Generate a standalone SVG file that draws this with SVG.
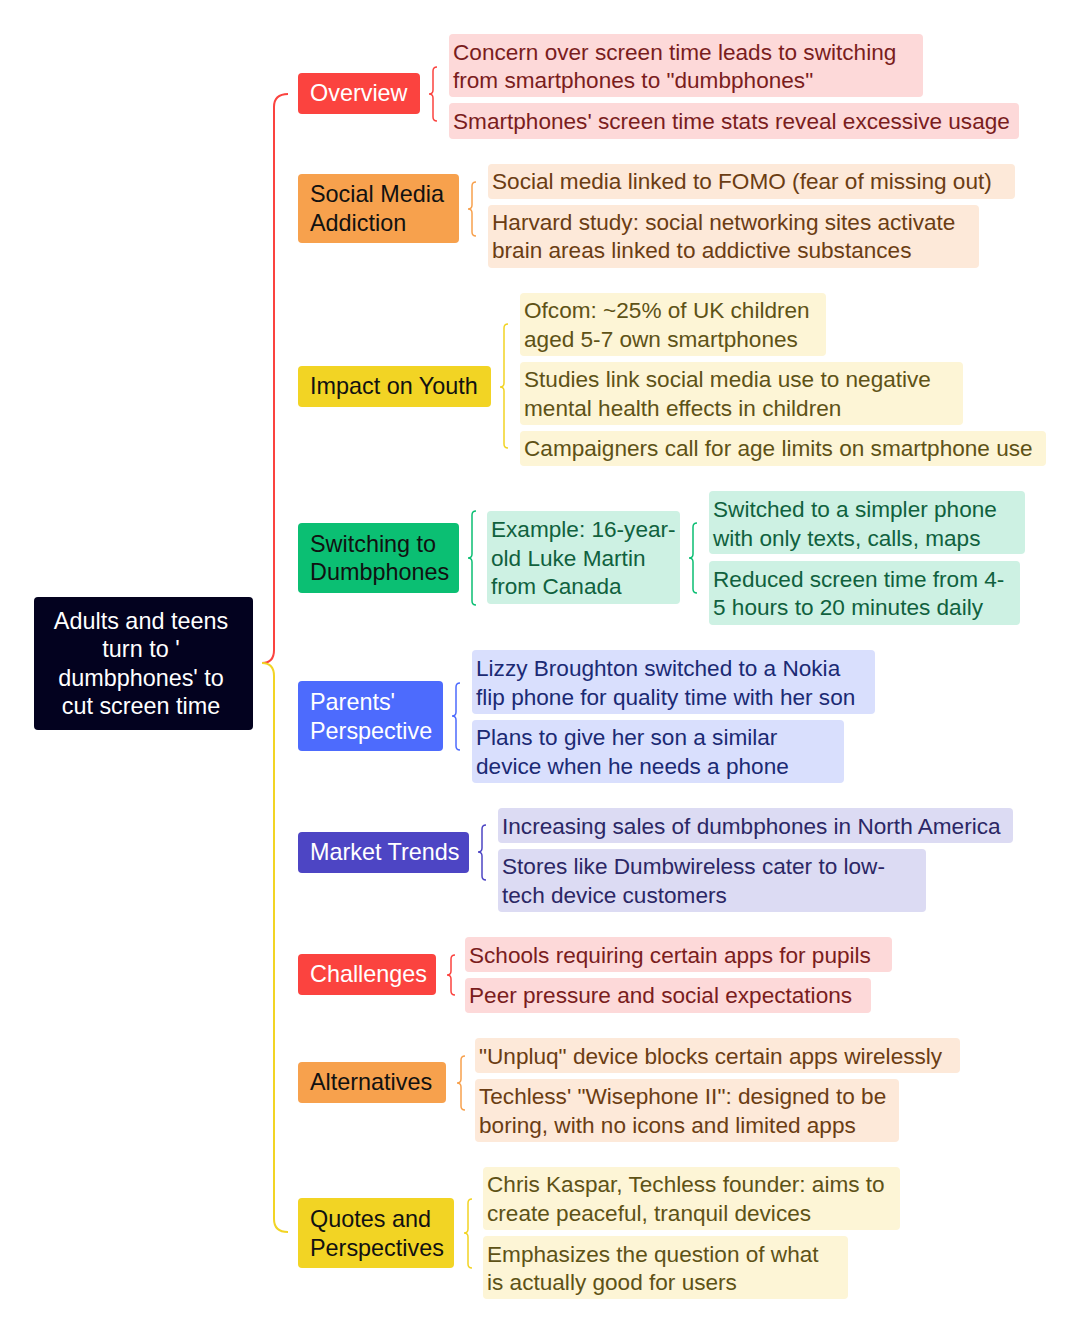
<svg xmlns="http://www.w3.org/2000/svg" width="1080" height="1334" viewBox="0 0 1080 1334">
<style>
text{font-family:"Liberation Sans",Arial,sans-serif;font-size:22.6px}
.n{font-size:23.4px}
.w{fill:#ffffff}.k{fill:#111111}
.br{fill:none;stroke-width:1.5}
.c{fill:none;stroke-width:2}
.red{fill:#fb433f}.org{fill:#f7a14d}.yel{fill:#f2d424}.grn{fill:#0bbf73}.blu{fill:#4d6bfd}.ind{fill:#4d45c4}
.pr{fill:#fdd9d9}.po{fill:#fde9d9}.py{fill:#fdf5d6}.pg{fill:#cdf1e3}.pb{fill:#d9dffd}.pi{fill:#dcdbf3}
.tr{fill:#7a1d1d}.to{fill:#6b3d13}.ty{fill:#5e5216}.tg{fill:#10613e}.tb{fill:#1b2a74}.ti{fill:#2b2765}
</style>
<rect width="1080" height="1334" fill="#ffffff"/>
<g id="connectors">
<path class="c" stroke="#fb433f" d="M262,663 Q274,663 274,650 L274,107 Q274,94 288,94"/>
<path class="c" stroke="#f2d424" d="M262,663 Q274,663 274,676 L274,1219 Q274,1232 288,1232"/>
<path class="br" stroke="#fb433f" d="M437,67 Q433,67 433,71 L433,90 Q433,94 429,94 Q433,94 433,98 L433,117 Q433,121 437,121"/>
<path class="br" stroke="#f7a14d" d="M476,182 Q472,182 472,186 L472,205 Q472,209 468,209 Q472,209 472,213 L472,232 Q472,236 476,236"/>
<path class="br" stroke="#f2d424" d="M508,324 Q504,324 504,328 L504,383 Q504,387 500,387 Q504,387 504,391 L504,444 Q504,448 508,448"/>
<path class="br" stroke="#0bbf73" d="M476,511 Q472,511 472,515 L472,554 Q472,558 468,558 Q472,558 472,562 L472,601 Q472,605 476,605"/>
<path class="br" stroke="#0bbf73" d="M697,523 Q693,523 693,527 L693,554 Q693,558 689,558 Q693,558 693,562 L693,589 Q693,593 697,593"/>
<path class="br" stroke="#4d6bfd" d="M460,683 Q456,683 456,687 L456,712 Q456,716 452,716 Q456,716 456,720 L456,746 Q456,750 460,750"/>
<path class="br" stroke="#4d45c4" d="M486,825 Q482,825 482,829 L482,848 Q482,852 478,852 Q482,852 482,856 L482,876 Q482,880 486,880"/>
<path class="br" stroke="#fb433f" d="M455,955 Q451,955 451,959 L451,971 Q451,975 447,975 Q451,975 451,979 L451,991 Q451,995 455,995"/>
<path class="br" stroke="#f7a14d" d="M465,1056 Q461,1056 461,1060 L461,1079 Q461,1083 457,1083 Q461,1083 461,1087 L461,1106 Q461,1110 465,1110"/>
<path class="br" stroke="#f2d424" d="M472,1199 Q468,1199 468,1203 L468,1229 Q468,1233 464,1233 Q468,1233 468,1237 L468,1264 Q468,1268 472,1268"/>
</g>
<g id="root">
<rect x="34" y="597" width="219" height="133" rx="4" fill="#03021f"/>
<text class="w n" text-anchor="middle"><tspan x="141" y="629">Adults and teens</tspan><tspan x="141" y="657">turn to '</tspan><tspan x="141" y="686">dumbphones' to</tspan><tspan x="141" y="714">cut screen time</tspan></text>
</g>
<g id="overview">
<rect class="red" x="298" y="73" width="122" height="41" rx="4"/>
<text class="w n" x="310" y="101">Overview</text>
</g>
<g id="overview-1"><rect class="pr" x="449" y="34" width="474" height="63" rx="4"/><text class="tr"><tspan x="453" y="60">Concern over screen time leads to switching</tspan><tspan x="453" y="88">from smartphones to "dumbphones"</tspan></text></g>
<g id="overview-2"><rect class="pr" x="449" y="103" width="570" height="36" rx="4"/><text class="tr" x="453" y="129">Smartphones' screen time stats reveal excessive usage</text></g>
<g id="social">
<rect class="org" x="298" y="174" width="161" height="69" rx="4"/>
<text class="k n"><tspan x="310" y="202">Social Media</tspan><tspan x="310" y="231">Addiction</tspan></text>
</g>
<g id="social-1"><rect class="po" x="488" y="164" width="527" height="35" rx="4"/><text class="to" x="492" y="189">Social media linked to FOMO (fear of missing out)</text></g>
<g id="social-2"><rect class="po" x="488" y="205" width="491" height="63" rx="4"/><text class="to"><tspan x="492" y="230">Harvard study: social networking sites activate</tspan><tspan x="492" y="258">brain areas linked to addictive substances</tspan></text></g>
<g id="youth">
<rect class="yel" x="298" y="366" width="193" height="41" rx="4"/>
<text class="k n" x="310" y="394">Impact on Youth</text>
</g>
<g id="youth-1"><rect class="py" x="520" y="293" width="306" height="63" rx="4"/><text class="ty"><tspan x="524" y="318">Ofcom: ~25% of UK children</tspan><tspan x="524" y="347">aged 5-7 own smartphones</tspan></text></g>
<g id="youth-2"><rect class="py" x="520" y="362" width="443" height="63" rx="4"/><text class="ty"><tspan x="524" y="387">Studies link social media use to negative</tspan><tspan x="524" y="416">mental health effects in children</tspan></text></g>
<g id="youth-3"><rect class="py" x="520" y="431" width="526" height="35" rx="4"/><text class="ty" x="524" y="456">Campaigners call for age limits on smartphone use</text></g>
<g id="switching">
<rect class="grn" x="298" y="523" width="161" height="70" rx="4"/>
<text class="k n"><tspan x="310" y="552">Switching to</tspan><tspan x="310" y="580">Dumbphones</tspan></text>
</g>
<g id="switching-1"><rect class="pg" x="487" y="511" width="193" height="93" rx="4"/><text class="tg"><tspan x="491" y="537">Example: 16-year-</tspan><tspan x="491" y="566">old Luke Martin</tspan><tspan x="491" y="594">from Canada</tspan></text></g>
<g id="switching-1a"><rect class="pg" x="709" y="491" width="316" height="63" rx="4"/><text class="tg"><tspan x="713" y="517">Switched to a simpler phone</tspan><tspan x="713" y="546">with only texts, calls, maps</tspan></text></g>
<g id="switching-1b"><rect class="pg" x="709" y="561" width="311" height="64" rx="4"/><text class="tg"><tspan x="713" y="587">Reduced screen time from 4-</tspan><tspan x="713" y="615">5 hours to 20 minutes daily</tspan></text></g>
<g id="parents">
<rect class="blu" x="298" y="681" width="145" height="70" rx="4"/>
<text class="w n"><tspan x="310" y="710">Parents'</tspan><tspan x="310" y="739">Perspective</tspan></text>
</g>
<g id="parents-1"><rect class="pb" x="472" y="650" width="403" height="64" rx="4"/><text class="tb"><tspan x="476" y="676">Lizzy Broughton switched to a Nokia</tspan><tspan x="476" y="705">flip phone for quality time with her son</tspan></text></g>
<g id="parents-2"><rect class="pb" x="472" y="720" width="372" height="63" rx="4"/><text class="tb"><tspan x="476" y="745">Plans to give her son a similar</tspan><tspan x="476" y="774">device when he needs a phone</tspan></text></g>
<g id="market">
<rect class="ind" x="298" y="832" width="171" height="41" rx="4"/>
<text class="w n" x="310" y="860">Market Trends</text>
</g>
<g id="market-1"><rect class="pi" x="498" y="808" width="515" height="35" rx="4"/><text class="ti" x="502" y="834">Increasing sales of dumbphones in North America</text></g>
<g id="market-2"><rect class="pi" x="498" y="849" width="428" height="63" rx="4"/><text class="ti"><tspan x="502" y="874">Stores like Dumbwireless cater to low-</tspan><tspan x="502" y="903">tech device customers</tspan></text></g>
<g id="challenges">
<rect class="red" x="298" y="954" width="138" height="41" rx="4"/>
<text class="w n" x="310" y="982">Challenges</text>
</g>
<g id="challenges-1"><rect class="pr" x="465" y="937" width="427" height="35" rx="4"/><text class="tr" x="469" y="963">Schools requiring certain apps for pupils</text></g>
<g id="challenges-2"><rect class="pr" x="465" y="978" width="406" height="35" rx="4"/><text class="tr" x="469" y="1003">Peer pressure and social expectations</text></g>
<g id="alternatives">
<rect class="org" x="298" y="1062" width="148" height="41" rx="4"/>
<text class="k n" x="310" y="1090">Alternatives</text>
</g>
<g id="alternatives-1"><rect class="po" x="475" y="1038" width="485" height="35" rx="4"/><text class="to" x="479" y="1064">"Unpluq" device blocks certain apps wirelessly</text></g>
<g id="alternatives-2"><rect class="po" x="475" y="1079" width="424" height="63" rx="4"/><text class="to"><tspan x="479" y="1104">Techless' "Wisephone II": designed to be</tspan><tspan x="479" y="1133">boring, with no icons and limited apps</tspan></text></g>
<g id="quotes">
<rect class="yel" x="298" y="1198" width="156" height="70" rx="4"/>
<text class="k n"><tspan x="310" y="1227">Quotes and</tspan><tspan x="310" y="1256">Perspectives</tspan></text>
</g>
<g id="quotes-1"><rect class="py" x="483" y="1167" width="417" height="63" rx="4"/><text class="ty"><tspan x="487" y="1192">Chris Kaspar, Techless founder: aims to</tspan><tspan x="487" y="1221">create peaceful, tranquil devices</tspan></text></g>
<g id="quotes-2"><rect class="py" x="483" y="1236" width="365" height="63" rx="4"/><text class="ty"><tspan x="487" y="1262">Emphasizes the question of what</tspan><tspan x="487" y="1290">is actually good for users</tspan></text></g>
</svg>
